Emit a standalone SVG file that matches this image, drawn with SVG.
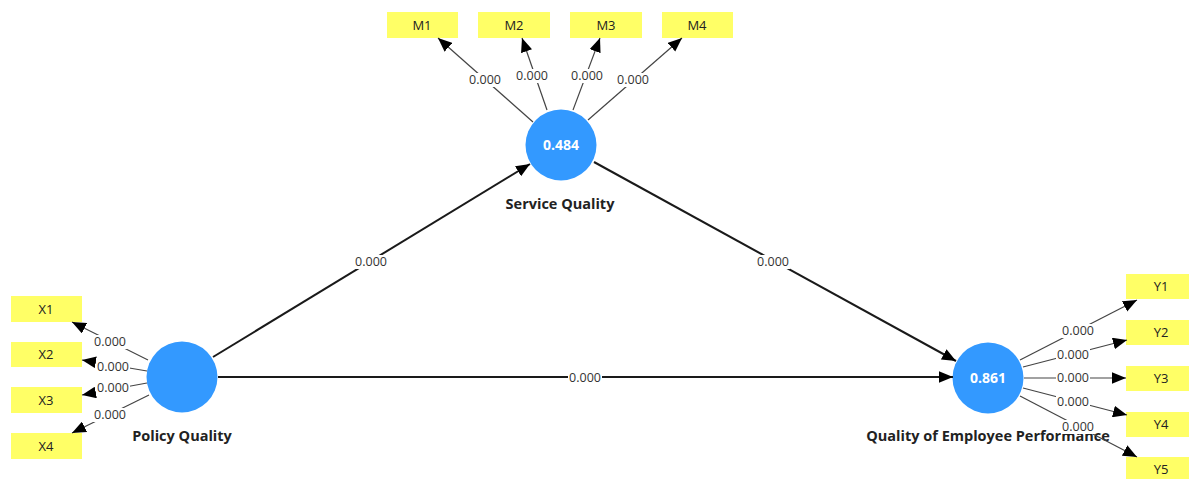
<svg xmlns="http://www.w3.org/2000/svg" width="1189" height="479" viewBox="0 0 1189 479">
<style>
.box{fill:#ffff66}
.ind{font-family:"Open Sans","Noto Sans",sans-serif;font-size:13px;fill:#222;text-anchor:middle}
.lv{fill:#3399ff}
.val{font-family:"Open Sans","Noto Sans",sans-serif;font-size:14px;font-weight:bold;fill:#fff;text-anchor:middle}
.name{font-family:"Open Sans","Noto Sans",sans-serif;font-size:14.5px;font-weight:bold;fill:#222;text-anchor:middle}
.thin{stroke:#444;stroke-width:1.2;fill:none}
.thick{stroke:#1a1a1a;stroke-width:2;fill:none}
.lb{fill:#fff}
.lt{font-family:"Open Sans","Noto Sans",sans-serif;font-size:12.5px;fill:#333;text-anchor:middle}
</style>
<defs>
<marker id="ah" markerUnits="userSpaceOnUse" markerWidth="14" markerHeight="12" refX="12" refY="5" orient="auto" viewBox="0 0 12 10">
<path d="M0,0 L12,5 L0,10 z" fill="#000"/>
</marker>
</defs>

<g id="node-M1"><rect class="box" x="387" y="12" width="71" height="26"/><text class="ind" x="422" y="30">M1</text></g>
<g id="node-M2"><rect class="box" x="478" y="12" width="72" height="26"/><text class="ind" x="514" y="30">M2</text></g>
<g id="node-M3"><rect class="box" x="570" y="12" width="72" height="26"/><text class="ind" x="606" y="30">M3</text></g>
<g id="node-M4"><rect class="box" x="662" y="12" width="71" height="26"/><text class="ind" x="697" y="30">M4</text></g>

<g id="node-X1"><rect class="box" x="11" y="296" width="71" height="26"/><text class="ind" x="46" y="314">X1</text></g>
<g id="node-X2"><rect class="box" x="11" y="342" width="71" height="25"/><text class="ind" x="46" y="359">X2</text></g>
<g id="node-X3"><rect class="box" x="11" y="387" width="71" height="26"/><text class="ind" x="46" y="405">X3</text></g>
<g id="node-X4"><rect class="box" x="11" y="433" width="71" height="26"/><text class="ind" x="46" y="451">X4</text></g>

<g id="node-Y1"><rect class="box" x="1126" y="274" width="63" height="25"/><text class="ind" x="1161" y="291">Y1</text></g>
<g id="node-Y2"><rect class="box" x="1126" y="320" width="63" height="25"/><text class="ind" x="1161" y="337">Y2</text></g>
<g id="node-Y3"><rect class="box" x="1126" y="366" width="63" height="25"/><text class="ind" x="1161" y="383">Y3</text></g>
<g id="node-Y4"><rect class="box" x="1126" y="412" width="63" height="25"/><text class="ind" x="1161" y="429">Y4</text></g>
<g id="node-Y5"><rect class="box" x="1126" y="457" width="63" height="25"/><text class="ind" x="1161" y="474">Y5</text></g>

<g id="node-service-quality"><circle class="lv" cx="561" cy="145" r="35.5"/><text class="val" x="561" y="150">0.484</text><text class="name" x="560" y="209">Service Quality</text></g>
<g id="node-policy-quality"><circle class="lv" cx="182" cy="377" r="35.5"/><text class="name" x="182" y="441">Policy Quality</text></g>
<g id="node-employee-performance"><circle class="lv" cx="988" cy="378" r="35.5"/><text class="val" x="988" y="383">0.861</text><text class="name" x="988" y="441">Quality of Employee Performance</text></g>

<g id="connectors">
<line class="thin" x1="533" y1="122" x2="438" y2="38" marker-end="url(#ah)"/>
<line class="thin" x1="547" y1="110" x2="522" y2="38" marker-end="url(#ah)"/>
<line class="thin" x1="573" y1="110" x2="600" y2="38" marker-end="url(#ah)"/>
<line class="thin" x1="588" y1="120" x2="682" y2="38" marker-end="url(#ah)"/>

<line class="thin" x1="148" y1="360" x2="72" y2="322" marker-end="url(#ah)"/>
<line class="thin" x1="147" y1="371" x2="82" y2="360" marker-end="url(#ah)"/>
<line class="thin" x1="147" y1="383" x2="82" y2="395" marker-end="url(#ah)"/>
<line class="thin" x1="149" y1="395" x2="72" y2="433" marker-end="url(#ah)"/>

<line class="thin" x1="1020" y1="360" x2="1137" y2="300" marker-end="url(#ah)"/>
<line class="thin" x1="1023" y1="367" x2="1127" y2="340" marker-end="url(#ah)"/>
<line class="thin" x1="1024" y1="378" x2="1126" y2="378" marker-end="url(#ah)"/>
<line class="thin" x1="1023" y1="388" x2="1127" y2="415" marker-end="url(#ah)"/>
<line class="thin" x1="1020" y1="396" x2="1137" y2="457" marker-end="url(#ah)"/>

<line class="thick" x1="213" y1="357" x2="530" y2="164" marker-end="url(#ah)"/>
<line class="thick" x1="594" y1="162" x2="956" y2="361" marker-end="url(#ah)"/>
<line class="thick" x1="218" y1="377" x2="953" y2="377" marker-end="url(#ah)"/>

<rect class="lb" x="468" y="73" width="34" height="14"/><text class="lt" x="485" y="84">0.000</text>
<rect class="lb" x="515" y="69" width="34" height="14"/><text class="lt" x="532" y="80">0.000</text>
<rect class="lb" x="570" y="69" width="34" height="14"/><text class="lt" x="587" y="80">0.000</text>
<rect class="lb" x="616" y="73" width="34" height="14"/><text class="lt" x="633" y="84">0.000</text>

<rect class="lb" x="93" y="335" width="34" height="14"/><text class="lt" x="110" y="346">0.000</text>
<rect class="lb" x="96" y="360" width="34" height="14"/><text class="lt" x="113" y="371">0.000</text>
<rect class="lb" x="96" y="381" width="34" height="14"/><text class="lt" x="113" y="392">0.000</text>
<rect class="lb" x="93" y="408" width="34" height="14"/><text class="lt" x="110" y="419">0.000</text>

<rect class="lb" x="1061" y="324" width="34" height="14"/><text class="lt" x="1078" y="335">0.000</text>
<rect class="lb" x="1056" y="348" width="34" height="14"/><text class="lt" x="1073" y="359">0.000</text>
<rect class="lb" x="1056" y="371" width="34" height="14"/><text class="lt" x="1073" y="382">0.000</text>
<rect class="lb" x="1056" y="395" width="34" height="14"/><text class="lt" x="1073" y="406">0.000</text>
<rect class="lb" x="1061" y="420" width="34" height="14"/><text class="lt" x="1078" y="431">0.000</text>

<rect class="lb" x="354" y="255" width="34" height="14"/><text class="lt" x="371" y="266">0.000</text>
<rect class="lb" x="756" y="255" width="34" height="14"/><text class="lt" x="773" y="266">0.000</text>
<rect class="lb" x="568" y="371" width="34" height="14"/><text class="lt" x="585" y="382">0.000</text>
</g>
</svg>
